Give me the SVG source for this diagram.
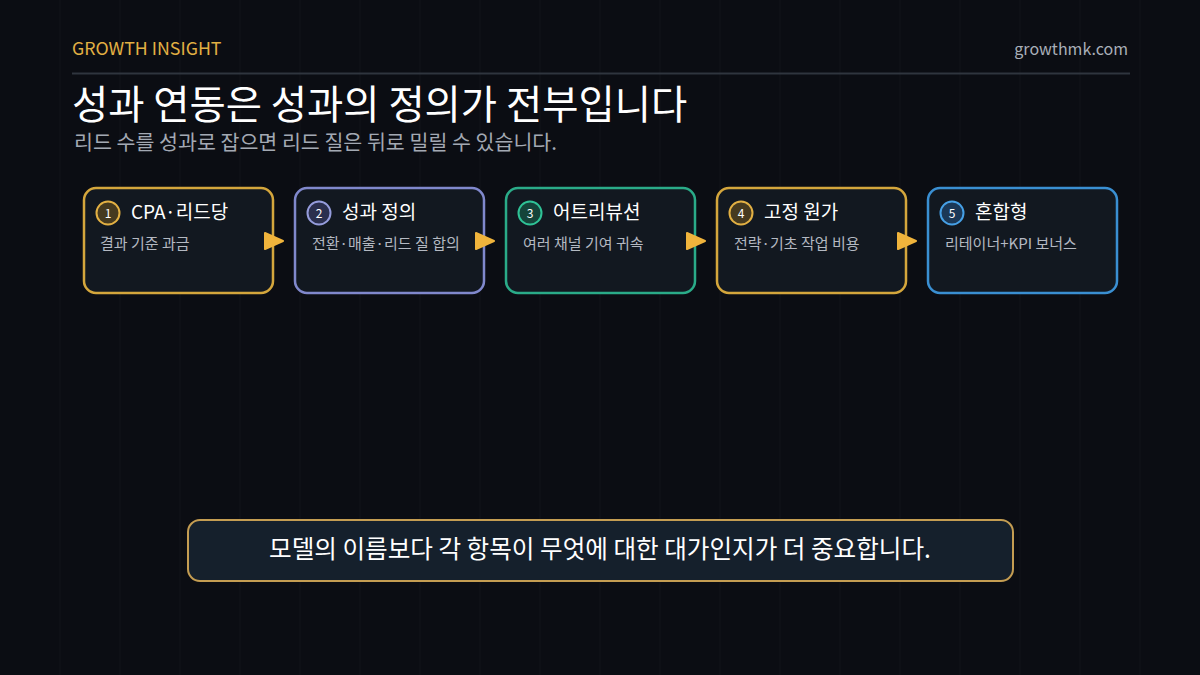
<svg xmlns="http://www.w3.org/2000/svg" width="1200" height="675" viewBox="0 0 1200 675">
<defs>
<style>
text{font-family:"Noto Sans CJK KR","Noto Sans",sans-serif}
.box{fill:#121820;stroke-width:2.5}
.ttl{font-size:19px;fill:#ffffff}
.dsc{font-size:15px;fill:#b4b9c2}
.num{font-size:12px;fill:#ffffff;text-anchor:middle}
.arr{fill:#f0b43c;stroke:#f0b43c;stroke-width:2;stroke-linejoin:round}
.grid line{stroke:#ffffff;stroke-opacity:0.035;stroke-width:1}
</style>
</defs>
<rect width="1200" height="675" fill="#0b0d13"/>
<g class="grid">
<line x1="60" y1="0" x2="60" y2="675"/><line x1="120" y1="0" x2="120" y2="675"/><line x1="180" y1="0" x2="180" y2="675"/><line x1="240" y1="0" x2="240" y2="675"/><line x1="300" y1="0" x2="300" y2="675"/><line x1="360" y1="0" x2="360" y2="675"/><line x1="420" y1="0" x2="420" y2="675"/><line x1="480" y1="0" x2="480" y2="675"/><line x1="540" y1="0" x2="540" y2="675"/><line x1="600" y1="0" x2="600" y2="675"/><line x1="660" y1="0" x2="660" y2="675"/><line x1="720" y1="0" x2="720" y2="675"/><line x1="780" y1="0" x2="780" y2="675"/><line x1="840" y1="0" x2="840" y2="675"/><line x1="900" y1="0" x2="900" y2="675"/><line x1="960" y1="0" x2="960" y2="675"/><line x1="1020" y1="0" x2="1020" y2="675"/><line x1="1080" y1="0" x2="1080" y2="675"/><line x1="1140" y1="0" x2="1140" y2="675"/>
</g>
<g id="header">
<text x="72" y="55" font-size="17.8" fill="#e2b043">GROWTH INSIGHT</text>
<text x="1128" y="55" font-size="16" fill="#a9afb8" text-anchor="end">growthmk.com</text>
<line x1="72" y1="73.5" x2="1130" y2="73.5" stroke="#2f353e" stroke-width="2"/>
<text x="72" y="119" font-size="39.4" fill="#ffffff">성과 연동은 성과의 정의가 전부입니다</text>
<text x="74" y="150" font-size="20.6" fill="#a3a9b3">리드 수를 성과로 잡으면 리드 질은 뒤로 밀릴 수 있습니다.</text>
</g>
<g id="node1">
<rect class="box" x="84" y="188" width="189" height="105" rx="12" stroke="#d4a63c"/>
<circle cx="108" cy="213" r="11.5" fill="#463a1f" stroke="#e2b043" stroke-width="2"/>
<text class="num" x="108" y="217.5">1</text>
<text class="ttl" x="131" y="219">CPA·리드당</text>
<text class="dsc" x="100" y="249">결과 기준 과금</text>
</g>
<g id="node2">
<rect class="box" x="295" y="188" width="189" height="105" rx="12" stroke="#8088cc"/>
<circle cx="319" cy="213" r="11.5" fill="#2b2f4e" stroke="#959cdc" stroke-width="2"/>
<text class="num" x="319" y="217.5">2</text>
<text class="ttl" x="342" y="219">성과 정의</text>
<text class="dsc" x="312" y="249">전환·매출·리드 질 합의</text>
</g>
<g id="node3">
<rect class="box" x="506" y="188" width="189" height="105" rx="12" stroke="#2aab88"/>
<circle cx="530" cy="213" r="11.5" fill="#15443a" stroke="#2fc296" stroke-width="2"/>
<text class="num" x="530" y="217.5">3</text>
<text class="ttl" x="553" y="219">어트리뷰션</text>
<text class="dsc" x="523" y="249">여러 채널 기여 귀속</text>
</g>
<g id="node4">
<rect class="box" x="717" y="188" width="189" height="105" rx="12" stroke="#d4a63c"/>
<circle cx="741" cy="213" r="11.5" fill="#463a1f" stroke="#e2b043" stroke-width="2"/>
<text class="num" x="741" y="217.5">4</text>
<text class="ttl" x="764" y="219">고정 원가</text>
<text class="dsc" x="734" y="249">전략·기초 작업 비용</text>
</g>
<g id="node5">
<rect class="box" x="928" y="188" width="189" height="105" rx="12" stroke="#3a8fd2"/>
<circle cx="952" cy="213" r="11.5" fill="#1b3857" stroke="#46a0e6" stroke-width="2"/>
<text class="num" x="952" y="217.5">5</text>
<text class="ttl" x="975" y="219">혼합형</text>
<text class="dsc" x="945" y="249">리테이너+KPI 보너스</text>
</g>
<g id="connectors">
<polygon class="arr" points="265,233 283,241 265,249"/>
<polygon class="arr" points="476,233 494,241 476,249"/>
<polygon class="arr" points="687,233 705,241 687,249"/>
<polygon class="arr" points="898,233 916,241 898,249"/>
</g>
<g id="note">
<rect x="188" y="520" width="825" height="61" rx="12" fill="#15202c" stroke="#c49d52" stroke-width="2"/>
<text x="600" y="557.5" font-size="24.6" fill="#ffffff" text-anchor="middle">모델의 이름보다 각 항목이 무엇에 대한 대가인지가 더 중요합니다.</text>
</g>
</svg>
